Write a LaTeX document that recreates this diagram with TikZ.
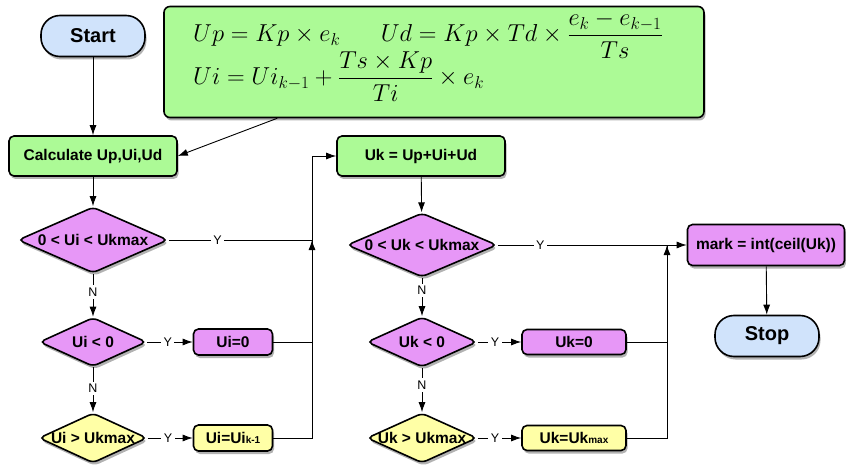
\documentclass[tikz,border=0pt]{standalone}
\usepackage{fix-cm}
\usepackage{amsmath}
\usepackage{fontspec}
\newfontfamily\flowfont{Liberation Sans}
\usetikzlibrary{arrows.meta,positioning,calc,shapes.geometric,shadows}

\definecolor{termblue}{RGB}{208,227,251}
\definecolor{procgreen}{RGB}{172,250,150}
\definecolor{testpurple}{RGB}{231,151,247}
\definecolor{limityellow}{RGB}{255,255,166}

\newcommand{\smalltxt}[1]{{\fontsize{10}{12}\selectfont #1}}
\newcommand{\ctext}[1]{\makebox[0pt]{#1}}

\begin{document}
\begin{tikzpicture}[
    x=1pt,
    y=-1pt,
    >={Latex[length=10pt,width=7pt]},
    shade/.style={
        drop shadow={shadow xshift=1.5pt, shadow yshift=-3pt,
                     opacity=0.3, fill=black}
    },
    term/.style={
        draw,
        line width=1.6pt,
        rounded corners=19pt,
        fill=termblue,
        minimum width=104pt,
        minimum height=41pt,
        font=\flowfont\bfseries\fontsize{20}{24}\selectfont,
        shade
    },
    process/.style={
        draw,
        line width=1.6pt,
        rounded corners=5pt,
        fill=procgreen,
        minimum width=168pt,
        minimum height=40pt,
        inner sep=3pt,
        font=\flowfont\bfseries\fontsize{15.5}{18}\selectfont,
        shade
    },
    smallbox/.style={
        draw,
        line width=1.6pt,
        rounded corners=5pt,
        minimum width=79pt,
        minimum height=26pt,
        inner sep=2pt,
        font=\flowfont\bfseries\fontsize{15.5}{18}\selectfont,
        shade
    },
    decide/.style={
        draw,
        diamond,
        line width=1.6pt,
        rounded corners=5pt,
        inner sep=0pt,
        font=\flowfont\bfseries\fontsize{15.5}{18}\selectfont,
        shade
    },
    formbox/.style={
        draw,
        line width=1.6pt,
        rounded corners=6pt,
        fill=procgreen,
        minimum width=540pt,
        minimum height=111pt,
        shade
    },
    eq/.style={anchor=base west, inner sep=0pt,
               font=\fontsize{24.5}{29}\selectfont},
    arrow/.style={->, line width=0.9pt},
    lbl/.style={fill=white, inner sep=2.5pt,
                font=\flowfont\fontsize{12.5}{14}\selectfont}
]

% ============================================================
% Bounding box
% ============================================================

\useasboundingbox (0,0) rectangle (846,465);

% ============================================================
% Start, formulas and first calculation
% ============================================================

\node[term] (start) at (93,36) {Start};

\node[formbox] (eqbox) at (434,62) {};

% second line lowered inside the same text
\node[eq] (eqtext) at (193,42)
    {\rlap{\raisebox{-43pt}{$Ui = Ui_{k-1} + \dfrac{Ts \times Kp}{Ti} \times e_k$}}%
     $Up = Kp \times e_k$\hspace{1.65em}$Ud = Kp \times Td \times \dfrac{e_k - e_{k-1}}{Ts}$};

\node[process] (calc) at (93,156) {Calculate Up,Ui,Ud};

\draw[arrow] (start) -- (calc);
\draw[arrow] ($(eqbox.south west)+(114,0)$) -- (calc.east);

% ============================================================
% Integral term limits
% ============================================================

\node[decide, fill=testpurple,
      minimum width=150pt, minimum height=66pt] (uirange) at (93,240)
    {\ctext{0 < Ui < Ukmax}};

\node[decide, fill=testpurple,
      minimum width=107pt, minimum height=49pt] (uineg) at (93,342)
    {\ctext{Ui < 0}};

\node[decide, fill=limityellow,
      minimum width=108pt, minimum height=50pt] (uimax) at (93,438)
    {\ctext{Ui > Ukmax}};

\node[smallbox, fill=testpurple] (uizero) at (233,342) {Ui=0};

\node[smallbox, fill=limityellow] (uiprev) at (233,438)
    {Ui=Ui\smalltxt{k-1}};

\coordinate (uijoin) at (312,240);

\draw[arrow] (calc) -- (uirange);
\draw[arrow] (uirange.south) -- node[lbl, pos=0.43] {N} (uineg.north);
\draw[arrow] (uineg.south) -- node[lbl, pos=0.47] {N} (uimax.north);

\draw[arrow] (uineg.east) -- node[lbl, pos=0.45] {Y} (uizero.west);
\draw[arrow] (uimax.east) -- node[lbl, pos=0.45] {Y} (uiprev.west);

\draw[line width=0.9pt] (uirange.east) -- node[lbl, pos=0.34] {Y} (uijoin);
\draw[line width=0.9pt] (uizero.east) -| (uijoin);
\draw[arrow] (uiprev.east) -| (uijoin);

% ============================================================
% Output sum and output limits
% ============================================================

\node[process] (uksum) at (421,156) {Uk = Up+Ui+Ud};

\draw[arrow] (uijoin) |- (uksum.west);

\node[decide, fill=testpurple,
      minimum width=150pt, minimum height=64pt] (ukrange) at (422,245)
    {\ctext{0 < Uk < Ukmax}};

\node[decide, fill=testpurple,
      minimum width=110pt, minimum height=50pt] (ukneg) at (422,342)
    {\ctext{Uk < 0}};

\node[decide, fill=limityellow,
      minimum width=110pt, minimum height=50pt] (ukmax) at (422,438)
    {\ctext{Uk > Ukmax}};

\node[smallbox, fill=testpurple, minimum width=104pt, minimum height=25pt]
    (ukzero) at (574,342) {Uk=0};

\node[smallbox, fill=limityellow, minimum width=104pt, minimum height=25pt]
    (uklimit) at (574,438) {Uk=Uk\smalltxt{max}};

\coordinate (ukjoin) at (667,245);

\draw[arrow] (uksum) -- (ukrange);
\draw[arrow] (ukrange.south) -- node[lbl, pos=0.33] {N} (ukneg.north);
\draw[arrow] (ukneg.south) -- node[lbl, pos=0.39] {N} (ukmax.north);

\draw[arrow] (ukneg.east) -- node[lbl, pos=0.4] {Y} (ukzero.west);
\draw[arrow] (ukmax.east) -- node[lbl, pos=0.4] {Y} (uklimit.west);

\draw[line width=0.9pt] (ukzero.east) -| (ukjoin);
\draw[arrow] (uklimit.east) -| (ukjoin);

% ============================================================
% Rounding and stop
% ============================================================

\node[process, fill=testpurple, minimum width=157pt, minimum height=41pt]
    (mark) at (766,245) {mark = int(ceil(Uk))};

\node[term] (stop) at (767,336) {Stop};

\draw[arrow] (ukrange.east) -- node[lbl, pos=0.225] {Y} (mark.west);
\draw[arrow] (mark) -- (stop);

\end{tikzpicture}
\end{document}
